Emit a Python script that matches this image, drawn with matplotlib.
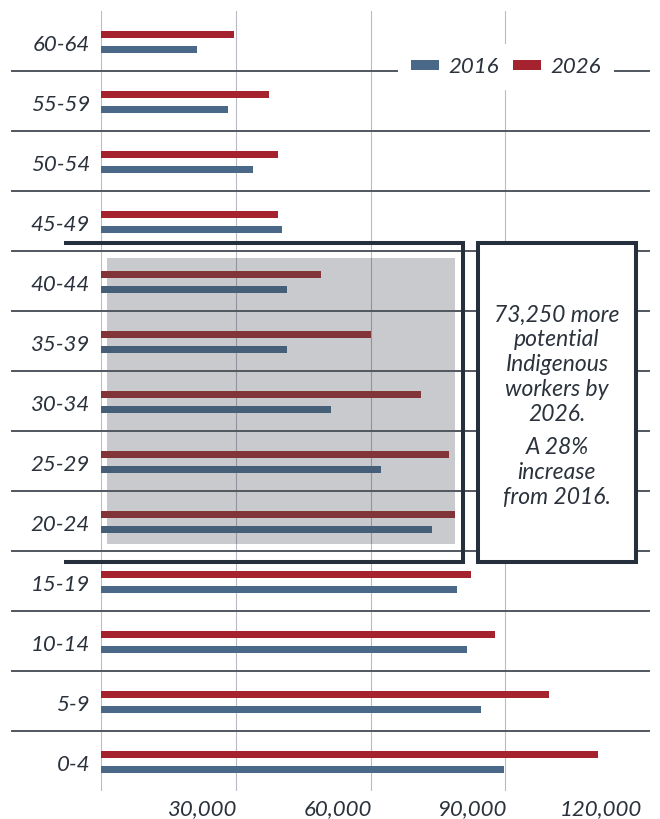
import matplotlib
matplotlib.use("Agg")
import matplotlib.pyplot as plt
import matplotlib.transforms as mtransforms
from matplotlib.patches import Patch, Rectangle

# ---------------- data ----------------
categories = ['0-4', '5-9', '10-14', '15-19', '20-24', '25-29', '30-34',
              '35-39', '40-44', '45-49', '50-54', '55-59', '60-64']
pop_2016 = [89800, 84500, 81400, 79300, 73700, 62400, 51200,
            41500, 41500, 40400, 33800, 28200, 21400]
pop_2026 = [110600, 99800, 87700, 82400, 78900, 77500, 71300,
            60000, 49000, 39400, 39400, 37500, 29600]
highlight = ['20-24', '25-29', '30-34', '35-39', '40-44']
series_names = ['2016', '2026']
tick_values = [30000, 60000, 90000, 120000]
tick_labels = ['30,000', '60,000', '90,000', '120,000']
grid_values = [0, 30000, 60000, 90000]
note_1 = "73,250 more\npotential\nIndigenous\nworkers by\n2026."
note_2 = "A 28%\nincrease\nfrom 2016."

# ---------------- style ----------------
BLUE, RED = '#4a6888', '#a4232f'
BLUE_H, RED_H = '#455f78', '#823539'
DARK = '#25303c'
TEXT = '#2b323c'
SEP = '#50575f'
GRID = '#b9bcc3'
FONT = dict(family=['Lato', 'DejaVu Sans'], style='italic', weight='normal')

fig = plt.figure(figsize=(6.6, 8.19), dpi=100)
ax = fig.add_axes([101 / 660, 28.3 / 819, 548 / 660, 780 / 819])
ax.set_xlim(0, 122000)
ax.set_ylim(-0.5, len(categories) - 0.5)
for s in ax.spines.values():
    s.set_visible(False)

ypos = list(range(len(categories)))
bar_h = 0.117
c16 = [BLUE_H if c in highlight else BLUE for c in categories]
c26 = [RED_H if c in highlight else RED for c in categories]
ax.barh([y - 0.15 for y in ypos], pop_2016, height=bar_h, color=c16, zorder=4)
ax.barh([y + 0.10 for y in ypos], pop_2026, height=bar_h, color=c26, zorder=4)

# vertical grid
for g in grid_values:
    ax.axvline(g, color=GRID, lw=0.8, zorder=1)

# separators between rows (extend into label area)
blend = mtransforms.blended_transform_factory(ax.transAxes, ax.transData)
for y in ypos[:-1]:
    ax.plot([-0.162, 1.0], [y + 0.5, y + 0.5], color=SEP, lw=1.4,
            transform=blend, clip_on=False, zorder=3)

# shaded highlight region
hi_idx = [categories.index(c) for c in highlight]
y_lo, y_hi = min(hi_idx) - 0.5 + 0.112, max(hi_idx) + 0.5 - 0.122
ax.add_patch(Rectangle((0.011, y_lo), 0.646 - 0.011, y_hi - y_lo,
                       transform=blend, facecolor='#050e1c', alpha=0.22,
                       edgecolor='none', zorder=2))

# bracket frame
b_top = max(hi_idx) + 0.5 + 0.128
b_bot = min(hi_idx) - 0.5 - 0.188
ax.plot([-0.0675, 0.6606, 0.6606, -0.0675], [b_top, b_top, b_bot, b_bot],
        color=DARK, lw=2.9, transform=blend, clip_on=False, zorder=6,
        solid_joinstyle='miter', solid_capstyle='butt')

# annotation box
ax.add_patch(Rectangle((0.688, b_bot), 0.976 - 0.688, b_top - b_bot,
                       transform=blend, facecolor='white', edgecolor=DARK,
                       lw=2.9, clip_on=False, zorder=6, joinstyle='miter'))
ax.text(0.832, 6.60, note_1, transform=blend, ha='center', va='center',
        fontsize=16.5, color=TEXT, linespacing=1.23, zorder=7, **FONT)
ax.text(0.832, 4.80, note_2, transform=blend, ha='center', va='center',
        fontsize=16.5, color=TEXT, linespacing=1.23, zorder=7, **FONT)

# axes ticks
ax.set_yticks(ypos)
ax.set_yticklabels(categories)
ax.set_xticks(tick_values)
ax.set_xticklabels(tick_labels)
ax.tick_params(axis='both', length=0, colors=TEXT)
ax.tick_params(axis='y', pad=8)
ax.tick_params(axis='x', pad=6)
shift_down = mtransforms.ScaledTranslation(0, -2 / 100, fig.dpi_scale_trans)
shift_right = mtransforms.ScaledTranslation(2 / 100, 0, fig.dpi_scale_trans)
for lab in ax.get_yticklabels() + ax.get_xticklabels():
    lab.set_fontfamily(FONT['family'])
    lab.set_fontstyle('italic')
    lab.set_fontweight('normal')
    lab.set_fontsize(16)
for lab in ax.get_yticklabels():
    lab.set_transform(lab.get_transform() + shift_down)
for lab in ax.get_xticklabels():
    lab.set_ha('right')
    lab.set_transform(lab.get_transform() + shift_right)

# legend
handles = [Patch(facecolor=BLUE, edgecolor='none'), Patch(facecolor=RED, edgecolor='none')]
leg = ax.legend(handles, series_names, loc='center', bbox_to_anchor=(0.739, 0.928),
                ncol=2, frameon=True, fancybox=False, framealpha=1,
                facecolor='white', edgecolor='none', handlelength=1.27,
                handleheight=0.36, handletextpad=0.42, columnspacing=0.6,
                borderpad=0.6, prop=dict(family=FONT['family'], style='italic',
                                         weight='normal', size=16))
for t in leg.get_texts():
    t.set_color(TEXT)
leg.set_zorder(8)

fig.savefig('out.png', dpi=100)
